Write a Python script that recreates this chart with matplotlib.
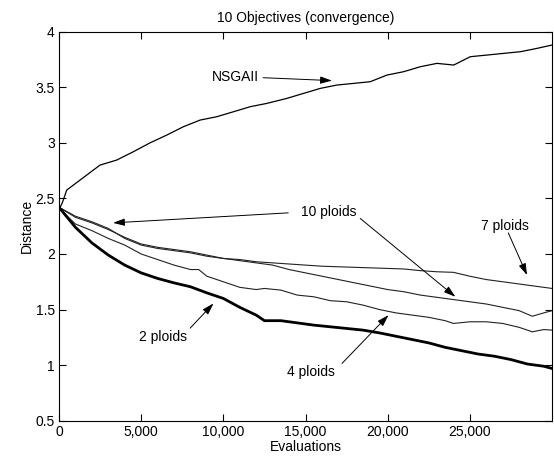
import matplotlib
matplotlib.use("Agg")
import matplotlib.pyplot as plt
from matplotlib.ticker import FuncFormatter

plt.rcParams['font.family'] = ['Liberation Sans', 'DejaVu Sans']

# ---- data ----
nsga_x = [0, 200, 470, 1280, 2090, 2500, 3510, 4525, 5540, 6560, 7570, 8590, 9600,
          10620, 11630, 12650, 13460, 13870, 14880, 15900, 16910, 17930, 18940,
          19960, 20970, 21990, 23000, 24020, 25030, 26050, 27060, 28080, 29090, 30000]
nsga_y = [2.40, 2.46, 2.575, 2.665, 2.755, 2.80, 2.845, 2.92, 3.00, 3.07, 3.145, 3.205, 3.235,
          3.28, 3.325, 3.355, 3.385, 3.40, 3.445, 3.49, 3.52, 3.535, 3.55,
          3.61, 3.64, 3.685, 3.715, 3.70, 3.775, 3.79, 3.805, 3.82, 3.85, 3.88]

p7_x = [0, 1000, 2000, 3000, 4000, 5000, 6000, 7000, 8000, 9000, 10000, 11000, 12000,
        13000, 14000, 15000, 16000, 17000, 18000, 19000, 20000, 21000, 22000, 23000,
        24000, 25000, 26000, 27000, 28000, 29000, 30000]
p7_y = [2.42, 2.33, 2.28, 2.22, 2.15, 2.09, 2.06, 2.04, 2.02, 1.99, 1.96, 1.95, 1.93,
        1.92, 1.91, 1.90, 1.89, 1.885, 1.88, 1.875, 1.87, 1.865, 1.85, 1.84,
        1.835, 1.80, 1.77, 1.75, 1.73, 1.71, 1.69]

p10_x = [0, 1000, 2000, 3000, 4000, 5000, 6000, 7000, 8000, 9000, 10000, 11000, 12000,
         13000, 14000, 15000, 16000, 17000, 18000, 19000, 20000, 21000, 22000, 23000,
         24000, 25000, 26000, 27000, 28000, 28800, 29500, 30000]
p10_y = [2.42, 2.34, 2.29, 2.23, 2.14, 2.08, 2.05, 2.03, 2.01, 1.98, 1.96, 1.94, 1.92,
         1.90, 1.86, 1.83, 1.80, 1.77, 1.74, 1.71, 1.68, 1.66, 1.63, 1.61,
         1.59, 1.57, 1.55, 1.52, 1.49, 1.44, 1.47, 1.49]

p4_x = [0, 500, 1000, 2000, 3000, 4000, 5000, 6000, 7000, 8000, 8500, 9000, 10000, 11000,
        12000, 12500, 13500, 14500, 15500, 16500, 17500, 18500, 19500, 20500, 21500,
        22500, 23500, 24000, 25000, 26000, 27000, 28000, 28800, 29500, 30000]
p4_y = [2.42, 2.34, 2.27, 2.21, 2.14, 2.08, 2.00, 1.95, 1.90, 1.86, 1.86, 1.80, 1.75, 1.70,
        1.68, 1.69, 1.675, 1.63, 1.615, 1.58, 1.57, 1.54, 1.50, 1.47, 1.45,
        1.43, 1.40, 1.375, 1.39, 1.39, 1.375, 1.34, 1.30, 1.32, 1.315]

p2_x = [0, 500, 1000, 2000, 3000, 4000, 5000, 6000, 7000, 8000, 9000, 10000, 11000, 12000,
        12500, 13500, 14500, 15500, 16500, 17500, 18500, 19500, 20500, 21500, 22500,
        23500, 24500, 25500, 26500, 27500, 28500, 29500, 30000]
p2_y = [2.42, 2.33, 2.24, 2.10, 1.99, 1.90, 1.83, 1.78, 1.74, 1.705, 1.65, 1.60, 1.52, 1.45,
        1.40, 1.40, 1.38, 1.36, 1.345, 1.33, 1.315, 1.29, 1.26, 1.23, 1.20,
        1.16, 1.13, 1.10, 1.08, 1.05, 1.01, 0.99, 0.97]

x_ticks = [0, 5000, 10000, 15000, 20000, 25000]
y_ticks = [0.5, 1, 1.5, 2, 2.5, 3, 3.5, 4]

# ---- figure ----
fig = plt.figure(figsize=(5.54, 4.66), dpi=100)
ax = fig.add_axes([59/554, 1 - 420.7/466, (552 - 59)/554, (420.7 - 31.7)/466])

ax.plot(nsga_x, nsga_y, color='black', lw=0.9)
ax.plot(p7_x, p7_y, color='#222222', lw=0.8)
ax.plot(p10_x, p10_y, color='#222222', lw=0.8)
ax.plot(p4_x, p4_y, color='#222222', lw=0.8)
ax.plot(p2_x, p2_y, color='black', lw=2.0)

ax.set_xlim(0, 30000)
ax.set_ylim(0.5, 4)
ax.set_xticks(x_ticks)
ax.set_yticks(y_ticks)
ax.xaxis.set_major_formatter(FuncFormatter(lambda v, p: f"{int(v):,}"))
ax.yaxis.set_major_formatter(FuncFormatter(lambda v, p: f"{v:g}"))
ax.tick_params(direction='in', length=5, width=0.8, top=True, right=True,
               labelsize=10, pad=3)
for s in ax.spines.values():
    s.set_linewidth(0.8)

ax.set_title("10 Objectives (convergence)", fontsize=10, pad=7)
ax.set_xlabel("Evaluations", fontsize=10, labelpad=1)
ax.set_ylabel("Distance", fontsize=10, labelpad=1)

arrow = dict(arrowstyle='-|>,head_length=0.7,head_width=0.22', color='black',
             lw=0.7, shrinkA=0, shrinkB=0)
ax.text(10740, 3.588, "NSGAII", ha='center', va='center', fontsize=10)
ax.annotate("", xy=(16610, 3.56), xytext=(12420, 3.586), arrowprops=arrow)

ax.text(16410, 2.38, "10 ploids", ha='center', va='center', fontsize=10)
ax.annotate("", xy=(3290, 2.28), xytext=(13950, 2.37), arrowprops=arrow)
ax.annotate("", xy=(24120, 1.615), xytext=(18330, 2.32), arrowprops=arrow)

ax.text(27160, 2.25, "7 ploids", ha='center', va='center', fontsize=10)
ax.annotate("", xy=(28480, 1.81), xytext=(27340, 2.19), arrowprops=arrow)

ax.text(6330, 1.252, "2 ploids", ha='center', va='center', fontsize=10)
ax.annotate("", xy=(9400, 1.555), xytext=(7980, 1.333), arrowprops=arrow)

ax.text(15350, 0.94, "4 ploids", ha='center', va='center', fontsize=10)
ax.annotate("", xy=(20050, 1.45), xytext=(17220, 1.015), arrowprops=arrow)

fig.savefig("out.png", dpi=100)
